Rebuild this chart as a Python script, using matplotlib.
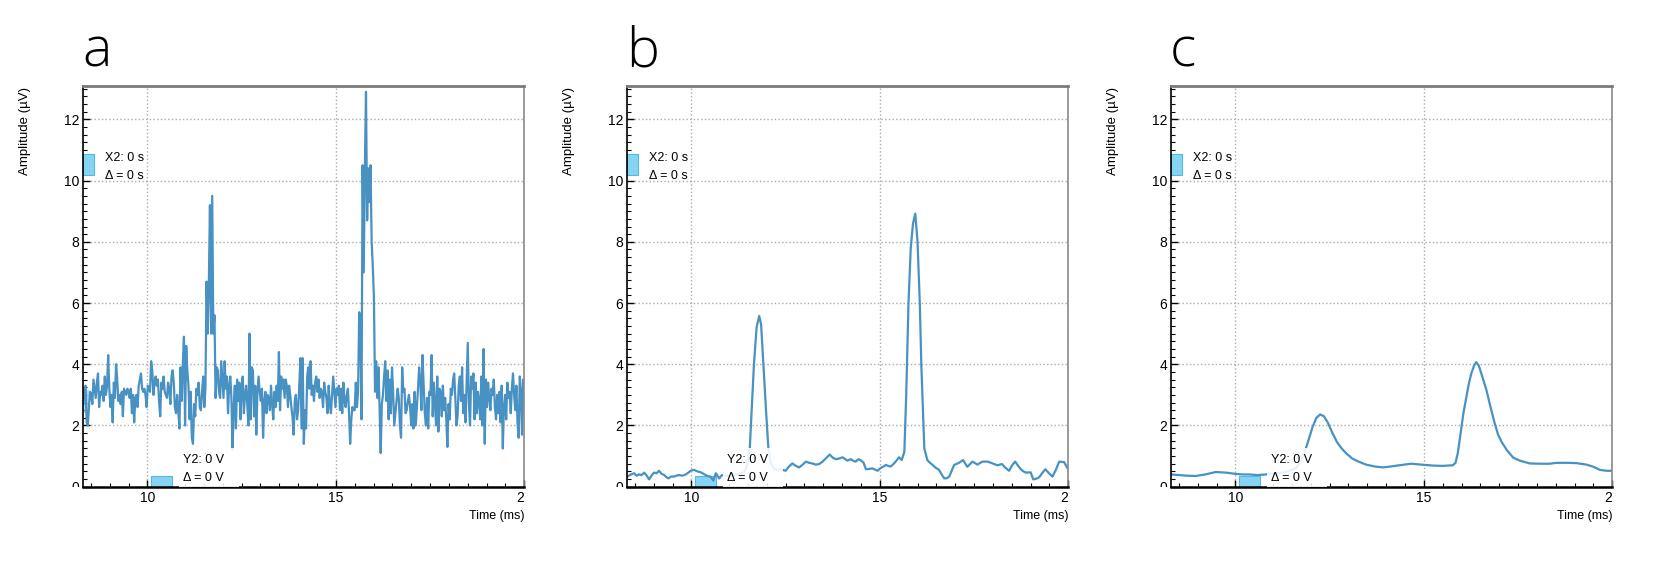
import numpy as np
import matplotlib
matplotlib.use("Agg")
import matplotlib.pyplot as plt
from matplotlib.patches import Rectangle
from matplotlib.ticker import MultipleLocator
from matplotlib.transforms import Bbox, TransformedBbox, blended_transform_factory

plt.rcParams['font.family'] = ['Liberation Sans', 'DejaVu Sans']

# panel a: raw trace, one sample every 0.03 ms from 8.3 ms
t0_a = 8.3
dt_a = 0.03
amp_a = [
    2.7, 3.2, 3.3, 2.1, 2.0, 2.6, 3.1, 3.0, 2.7, 3.5, 3.2, 2.9, 3.4, 3.7, 2.6, 3.1, 3.0, 3.3, 2.8, 3.6,
    3.0, 3.3, 4.3, 3.2, 2.6, 3.0, 2.1, 3.4, 2.9, 4.0, 3.5, 2.8, 3.0, 2.7, 3.1, 2.3, 3.2, 3.1, 3.0, 3.2,
    3.1, 2.9, 3.2, 2.4, 3.0, 2.1, 2.9, 3.0, 2.6, 3.3, 3.5, 3.7, 3.2, 3.1, 3.2, 3.0, 2.6, 3.3, 3.2, 3.1,
    4.1, 3.8, 3.0, 3.4, 3.6, 3.3, 3.5, 2.8, 2.3, 3.4, 3.2, 3.6, 3.1, 3.0, 2.9, 3.4, 3.2, 2.7, 3.6, 3.8,
    3.4, 2.6, 2.4, 3.0, 2.5, 1.9, 3.9, 2.8, 4.0, 4.9, 2.0, 4.6, 3.8, 3.3, 2.2, 3.1, 1.6, 1.4, 2.7, 2.3,
    3.2, 3.0, 3.4, 2.6, 2.5, 3.1, 3.6, 2.6, 3.2, 6.7, 5.0, 6.6, 9.2, 5.0, 9.5, 5.0, 5.6, 2.9, 3.9, 3.8,
    3.1, 2.9, 4.1, 3.5, 2.9, 4.1, 3.2, 3.6, 2.4, 3.3, 3.6, 2.9, 1.2, 2.6, 3.3, 1.9, 3.5, 2.8, 3.4, 2.2,
    3.2, 3.6, 2.4, 3.0, 3.3, 2.7, 2.0, 5.0, 2.2, 3.9, 3.8, 2.3, 3.3, 1.7, 3.1, 3.6, 3.1, 2.8, 3.2, 1.6,
    2.8, 3.1, 2.4, 3.0, 2.9, 2.5, 3.3, 2.7, 2.2, 3.1, 2.6, 3.3, 2.8, 4.4, 2.5, 3.6, 3.2, 3.5, 2.9, 3.5,
    3.3, 2.6, 3.3, 3.0, 2.6, 2.3, 1.7, 2.8, 3.0, 2.2, 2.5, 3.3, 4.2, 1.9, 4.2, 1.4, 2.5, 1.9, 3.6, 3.9,
    3.2, 4.1, 3.0, 3.3, 2.8, 3.4, 3.6, 3.1, 3.5, 2.9, 3.2, 3.1, 2.6, 3.4, 3.1, 2.9, 2.4, 3.3, 2.7, 2.4,
    3.0, 3.6, 3.1, 2.6, 3.2, 3.0, 3.3, 2.5, 3.2, 2.4, 3.4, 2.8, 2.6, 3.0, 3.2, 2.4, 1.4, 2.2, 2.6, 2.5,
    2.5, 3.4, 2.6, 3.1, 5.7, 5.4, 2.2, 10.5, 7.0, 10.4, 12.9, 8.7, 10.4, 9.3, 10.5, 8.0, 7.2, 6.2, 3.1, 4.1,
    2.9, 3.9, 2.6, 1.1, 2.7, 3.0, 3.6, 4.1, 2.8, 3.8, 2.2, 3.5, 2.4, 3.9, 3.1, 2.0, 2.4, 2.8, 3.2, 2.9,
    2.0, 1.6, 3.9, 3.1, 3.2, 2.4, 2.5, 2.8, 3.0, 2.6, 2.0, 2.7, 1.9, 3.1, 2.0, 2.6, 3.2, 3.9, 3.5, 2.5,
    4.3, 3.3, 2.4, 2.0, 2.9, 1.9, 3.1, 3.0, 4.3, 2.3, 3.4, 2.7, 2.0, 3.6, 1.8, 3.2, 3.1, 2.3, 3.3, 2.5,
    2.9, 2.2, 1.3, 2.7, 2.2, 3.2, 3.0, 3.5, 3.7, 2.9, 2.0, 2.3, 3.3, 3.6, 2.8, 3.9, 2.4, 3.0, 2.1, 3.4,
    4.7, 2.7, 2.0, 3.6, 3.2, 3.7, 2.2, 3.4, 2.4, 3.1, 2.8, 2.2, 3.6, 2.0, 4.5, 1.4, 3.5, 2.6, 3.4, 2.9,
    2.5, 3.2, 3.0, 3.5, 2.6, 2.2, 3.0, 2.4, 3.1, 2.1, 3.3, 1.25, 2.6, 3.0, 2.2, 3.4, 2.9, 3.1, 2.4, 3.2,
    3.7, 3.0, 2.5, 3.3, 2.1, 1.6, 3.6, 3.1, 1.7, 3.5, 2.4,
]
time_a = t0_a + dt_a * np.arange(len(amp_a))

# panel b: filtered
time_b = [
    8.3, 8.4, 8.48, 8.55, 8.61, 8.68, 8.75, 8.82, 8.88, 8.95,
    9.01, 9.08, 9.14, 9.21, 9.28, 9.33, 9.39, 9.46, 9.54, 9.6,
    9.67, 9.76, 9.85, 9.92, 9.98, 10.07, 10.16, 10.25, 10.32, 10.38,
    10.45, 10.51, 10.58, 10.65, 10.74, 10.81, 10.9, 11.0, 11.1, 11.2,
    11.3, 11.4, 11.48, 11.55, 11.6, 11.66, 11.73, 11.8, 11.85, 11.91,
    11.98, 12.04, 12.1, 12.18, 12.27, 12.37, 12.5, 12.59, 12.68, 12.77,
    12.86, 12.95, 13.04, 13.12, 13.21, 13.3, 13.39, 13.48, 13.57, 13.67,
    13.75, 13.83, 13.92, 14.01, 14.08, 14.14, 14.23, 14.3, 14.36, 14.43,
    14.5, 14.57, 14.63, 14.72, 14.8, 14.87, 14.94, 15.03, 15.1, 15.16,
    15.22, 15.29, 15.36, 15.42, 15.51, 15.58, 15.65, 15.7, 15.76, 15.82,
    15.88, 15.94, 16.0, 16.06, 16.1, 16.18, 16.26, 16.33, 16.4, 16.48,
    16.57, 16.64, 16.71, 16.78, 16.84, 16.9, 16.97, 17.1, 17.21, 17.32,
    17.46, 17.59, 17.72, 17.86, 17.99, 18.12, 18.24, 18.33, 18.43, 18.51,
    18.59, 18.67, 18.74, 18.81, 18.88, 19.0, 19.07, 19.15, 19.23, 19.31,
    19.39, 19.48, 19.58, 19.67, 19.76, 19.89, 19.98, 20.0,
]
amp_b = [
    0.33, 0.40, 0.44, 0.36, 0.40, 0.38, 0.46, 0.35, 0.24, 0.38,
    0.46, 0.44, 0.52, 0.42, 0.38, 0.32, 0.27, 0.33, 0.33, 0.36,
    0.38, 0.36, 0.40, 0.46, 0.52, 0.55, 0.50, 0.47, 0.42, 0.38,
    0.34, 0.33, 0.20, 0.44, 0.27, 0.38, 0.36, 0.34, 0.38, 0.40,
    0.42, 0.48, 0.70, 1.26, 2.5, 4.0, 5.2, 5.58, 5.3, 4.0,
    2.5, 1.3, 0.8, 0.6, 0.55, 0.57, 0.52, 0.66, 0.76, 0.68,
    0.63, 0.72, 0.82, 0.78, 0.76, 0.72, 0.74, 0.82, 0.93, 1.05,
    0.95, 0.90, 0.92, 0.96, 0.90, 0.85, 0.90, 0.84, 0.82, 0.90,
    0.86, 0.78, 0.57, 0.58, 0.60, 0.56, 0.52, 0.62, 0.66, 0.71,
    0.68, 0.66, 0.74, 0.82, 0.96, 0.87, 1.14, 3.0, 6.0, 7.8,
    8.6, 8.92, 8.0, 6.0, 4.0, 1.25, 0.87, 0.78, 0.71, 0.62,
    0.55, 0.40, 0.27, 0.28, 0.33, 0.50, 0.71, 0.78, 0.87, 0.65,
    0.82, 0.72, 0.82, 0.82, 0.76, 0.70, 0.74, 0.62, 0.52, 0.70,
    0.82, 0.68, 0.57, 0.50, 0.46, 0.47, 0.24, 0.26, 0.31, 0.45,
    0.57, 0.45, 0.33, 0.55, 0.82, 0.80, 0.60, 0.58,
]

# panel c: averaged
time_c = [
    8.3, 8.5, 8.7, 8.95, 9.2, 9.48, 9.75, 10.0, 10.2, 10.36,
    10.6, 10.8, 11.0, 11.2, 11.4, 11.6, 11.75, 11.87, 11.96, 12.05,
    12.15, 12.25, 12.35, 12.45, 12.58, 12.7, 12.82, 12.94, 13.1, 13.27,
    13.47, 13.7, 13.91, 14.12, 14.35, 14.66, 14.95, 15.24, 15.5, 15.77,
    15.84, 15.9, 15.97, 16.05, 16.13, 16.2, 16.26, 16.33, 16.39, 16.46,
    16.55, 16.66, 16.77, 16.88, 16.97, 17.06, 17.2, 17.37, 17.55, 17.81,
    18.1, 18.34, 18.52, 18.8, 19.05, 19.32, 19.5, 19.67, 19.85, 20.0,
]
amp_c = [
    0.40, 0.38, 0.36, 0.35, 0.40, 0.48, 0.46, 0.42, 0.40, 0.40,
    0.38, 0.40, 0.42, 0.45, 0.50, 0.60, 0.85, 1.25, 1.60, 1.96,
    2.25, 2.36, 2.30, 2.10, 1.74, 1.45, 1.25, 1.09, 0.92, 0.82,
    0.72, 0.66, 0.63, 0.66, 0.70, 0.75, 0.72, 0.69, 0.68, 0.70,
    0.78, 1.09, 1.70, 2.40, 2.94, 3.40, 3.70, 3.95, 4.07, 3.95,
    3.60, 3.16, 2.60, 2.07, 1.70, 1.47, 1.20, 0.95, 0.85, 0.76,
    0.75, 0.75, 0.78, 0.78, 0.77, 0.72, 0.65, 0.55, 0.52, 0.52,
]

panels = ['a', 'b', 'c']
traces = [(time_a, amp_a), (time_b, amp_b), (time_c, amp_c)]
x_ticks = [10, 15, 20]
y_ticks = [0, 2, 4, 6, 8, 10, 12]
x_range = (8.3, 20.0)
y_range = (0, 13.1)

W, H = 1653, 575
line_col = '#4891c3'
cursor_face = '#86d3f4'
cursor_edge = '#56b9e3'

fig = plt.figure(figsize=(W / 100, H / 100), dpi=100)

axes = []
for k, name in enumerate(panels):
    x0 = 83.3 + 544 * k
    ax = fig.add_axes([x0 / W, 1 - 486.7 / H, 441 / W, 401 / H])
    axes.append(ax)
    t, a = traces[k]
    ax.plot(t, a, color=line_col, lw=1.6, zorder=2)

    ax.set_xlim(*x_range)
    ax.set_ylim(*y_range)
    ax.set_xticks(x_ticks)
    ax.set_yticks(y_ticks)
    ax.xaxis.set_minor_locator(MultipleLocator(0.5))
    ax.yaxis.set_minor_locator(MultipleLocator(0.25))
    ax.tick_params(which='both', direction='in', top=False, right=False,
                   labelsize=10, colors='black')
    ax.tick_params(which='major', length=5, width=1, pad=3)
    ax.tick_params(which='minor', length=3, width=0.8)
    ax.grid(True, which='major', linestyle=':', color='#aaaaaa', lw=1)
    ax.set_axisbelow(True)

    ax.spines['top'].set_color('#7a7a7a')
    ax.spines['top'].set_linewidth(2)
    ax.spines['right'].set_color('#8a8a8a')
    ax.spines['right'].set_linewidth(1.2)
    ax.spines['left'].set_linewidth(1.2)
    ax.spines['bottom'].set_linewidth(1.8)

    ax.set_ylabel('Amplitude (µV)', fontsize=9.5)
    ax.yaxis.set_label_coords(-0.118, 0.887)
    ax.text(1.0, -0.072, 'Time (ms)', transform=ax.transAxes,
            ha='right', va='center', fontsize=9)

    # cursor handles
    bl = blended_transform_factory(ax.transAxes, ax.transData)
    ax.add_patch(Rectangle((0, 10.18), 0.024, 0.7, transform=bl,
                           fc=cursor_face, ec=cursor_edge, lw=0.8, zorder=1.5, clip_on=False))
    if name == 'a':
        ax.add_patch(Rectangle((0, 2.4), 0.012, 0.75, transform=bl,
                               fc=cursor_face, ec='none', alpha=0.7, zorder=1.5))
    ax.add_patch(Rectangle((10.09, 0), 0.55, 0.35,
                           fc=cursor_face, ec=cursor_edge, lw=0.8, zorder=1.5))

    ax.text(0.049, 0.8204, 'X2: 0 s', transform=ax.transAxes, ha='left', va='center', fontsize=9, zorder=4)
    ax.text(0.049, 0.7756, 'Δ = 0 s', transform=ax.transAxes, ha='left', va='center', fontsize=9, zorder=4)

    # white label box over the trace
    ax.add_patch(Rectangle((0.216, 0.0), 0.136, 0.096, transform=ax.transAxes,
                           fc='white', ec='none', alpha=0.88, zorder=3))
    ax.text(0.2268, 0.0666, 'Y2: 0 V', transform=ax.transAxes, ha='left', va='center', fontsize=9, zorder=4)
    ax.text(0.2268, 0.0224, 'Δ = 0 V', transform=ax.transAxes, ha='left', va='center', fontsize=9, zorder=4)

    fig.text((82 + 544 * k) / W, 1 - 67 / H, name, fontsize=40,
             family=['Open Sans', 'DejaVu Sans'], fontweight='light', va='baseline', ha='left')

# tick labels are cut at the plot edges
for ax in axes:
    pos = ax.get_position()
    xclip = TransformedBbox(Bbox([[pos.x0, 0], [pos.x1, 1]]), fig.transFigure)
    yclip = TransformedBbox(Bbox([[0, pos.y0], [1, pos.y1]]), fig.transFigure)
    for tk in ax.xaxis.get_major_ticks():
        tk.label1.set_clip_on(True)
        tk.label1.set_clip_box(xclip)
    for tk in ax.yaxis.get_major_ticks():
        tk.label1.set_clip_on(True)
        tk.label1.set_clip_box(yclip)

fig.savefig('out.png', dpi=100, facecolor='white')
